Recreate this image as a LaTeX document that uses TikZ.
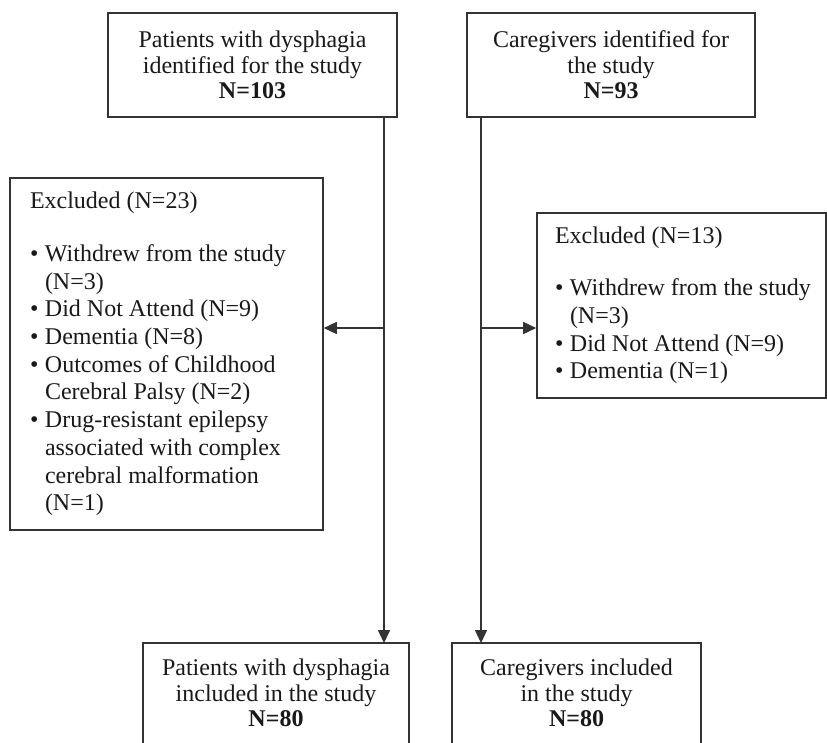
\documentclass[tikz,border=0pt]{standalone}
\usepackage{fontspec}
\setmainfont{Liberation Serif}
\usetikzlibrary{arrows.meta}
\newcommand\myb[1]{\mbox{\makebox[15pt][l]{\textbullet}#1}}
\newcommand\myind[1]{\mbox{\hspace*{15pt}#1}}
\begin{document}
\begin{tikzpicture}[x=1pt,y=-1pt,
  line/.style={draw=black!80, line width=1.6pt},
  box/.style={line, rectangle, inner sep=0pt, align=center, font=\fontsize{24}{25.5}\selectfont, text=black!90},
  exbox/.style={line, rectangle, inner ysep=0pt, align=flush left, font=\fontsize{24}{27.7}\selectfont, text=black!90},
  arr/.style={line, -{Triangle[length=13pt,width=12pt]}}]
\useasboundingbox (0,0) rectangle (827,742);
\fill[white] (0,0) rectangle (827,742);
\clip (0,0) rectangle (827,742);
\node[box, minimum width=289pt, minimum height=104pt] (top1) at (252.5,65)
  {Patients with dysphagia\\identified for the study\\\textbf{N=103}};
\node[box, minimum width=288pt, minimum height=104pt] (top2) at (611,65)
  {Caregivers identified for\\the study\\\textbf{N=93}};
\node[exbox, text width=273pt, inner xsep=20pt, minimum height=352pt] (exc1) at (166.5,354)
  {Excluded (N=23)\\[25pt]
   \myb{Withdrew from the study}\\
   \myind{(N=3)}\\
   \myb{Did Not Attend (N=9)}\\
   \myb{Dementia (N=8)}\\
   \myb{Outcomes of Childhood}\\
   \myind{Cerebral Palsy (N=2)}\\
   \myb{Drug-resistant epilepsy}\\
   \myind{associated with complex}\\
   \myind{cerebral malformation}\\
   \myind{(N=1)}};
\node[exbox, text width=253pt, inner xsep=18pt, minimum height=185pt] (exc2) at (681.5,305.5)
  {Excluded (N=13)\\[24.5pt]
   \myb{Withdrew from the study}\\
   \myind{(N=3)}\\
   \myb{Did Not Attend (N=9)}\\
   \myb{Dementia (N=1)}};
\node[box, draw=none, minimum width=264pt, minimum height=98pt, anchor=north] (bot1) at (276,643)
  {Patients with dysphagia\\included in the study\\\textbf{N=80}};
\node[box, draw=none, minimum width=247pt, minimum height=98pt, anchor=north] (bot2) at (576.5,643)
  {Caregivers included\\in the study\\\textbf{N=80}};
\draw[line] ([yshift=-150pt]bot1.north west) -- (bot1.north west) -- (bot1.north east) -- ([yshift=-150pt]bot1.north east);
\draw[line] ([yshift=-150pt]bot2.north west) -- (bot2.north west) -- (bot2.north east) -- ([yshift=-150pt]bot2.north east);
\coordinate (j1) at (384,328);
\coordinate (j2) at (481,328);
\draw[arr] (j1 |- top1.south) -- (j1 |- bot1.north);
\draw[arr] (j2 |- top2.south) -- (j2 |- bot2.north);
\draw[arr] (j1) -- (exc1.east |- j1);
\draw[arr] (j2) -- (exc2.west |- j2);
\end{tikzpicture}
\end{document}
